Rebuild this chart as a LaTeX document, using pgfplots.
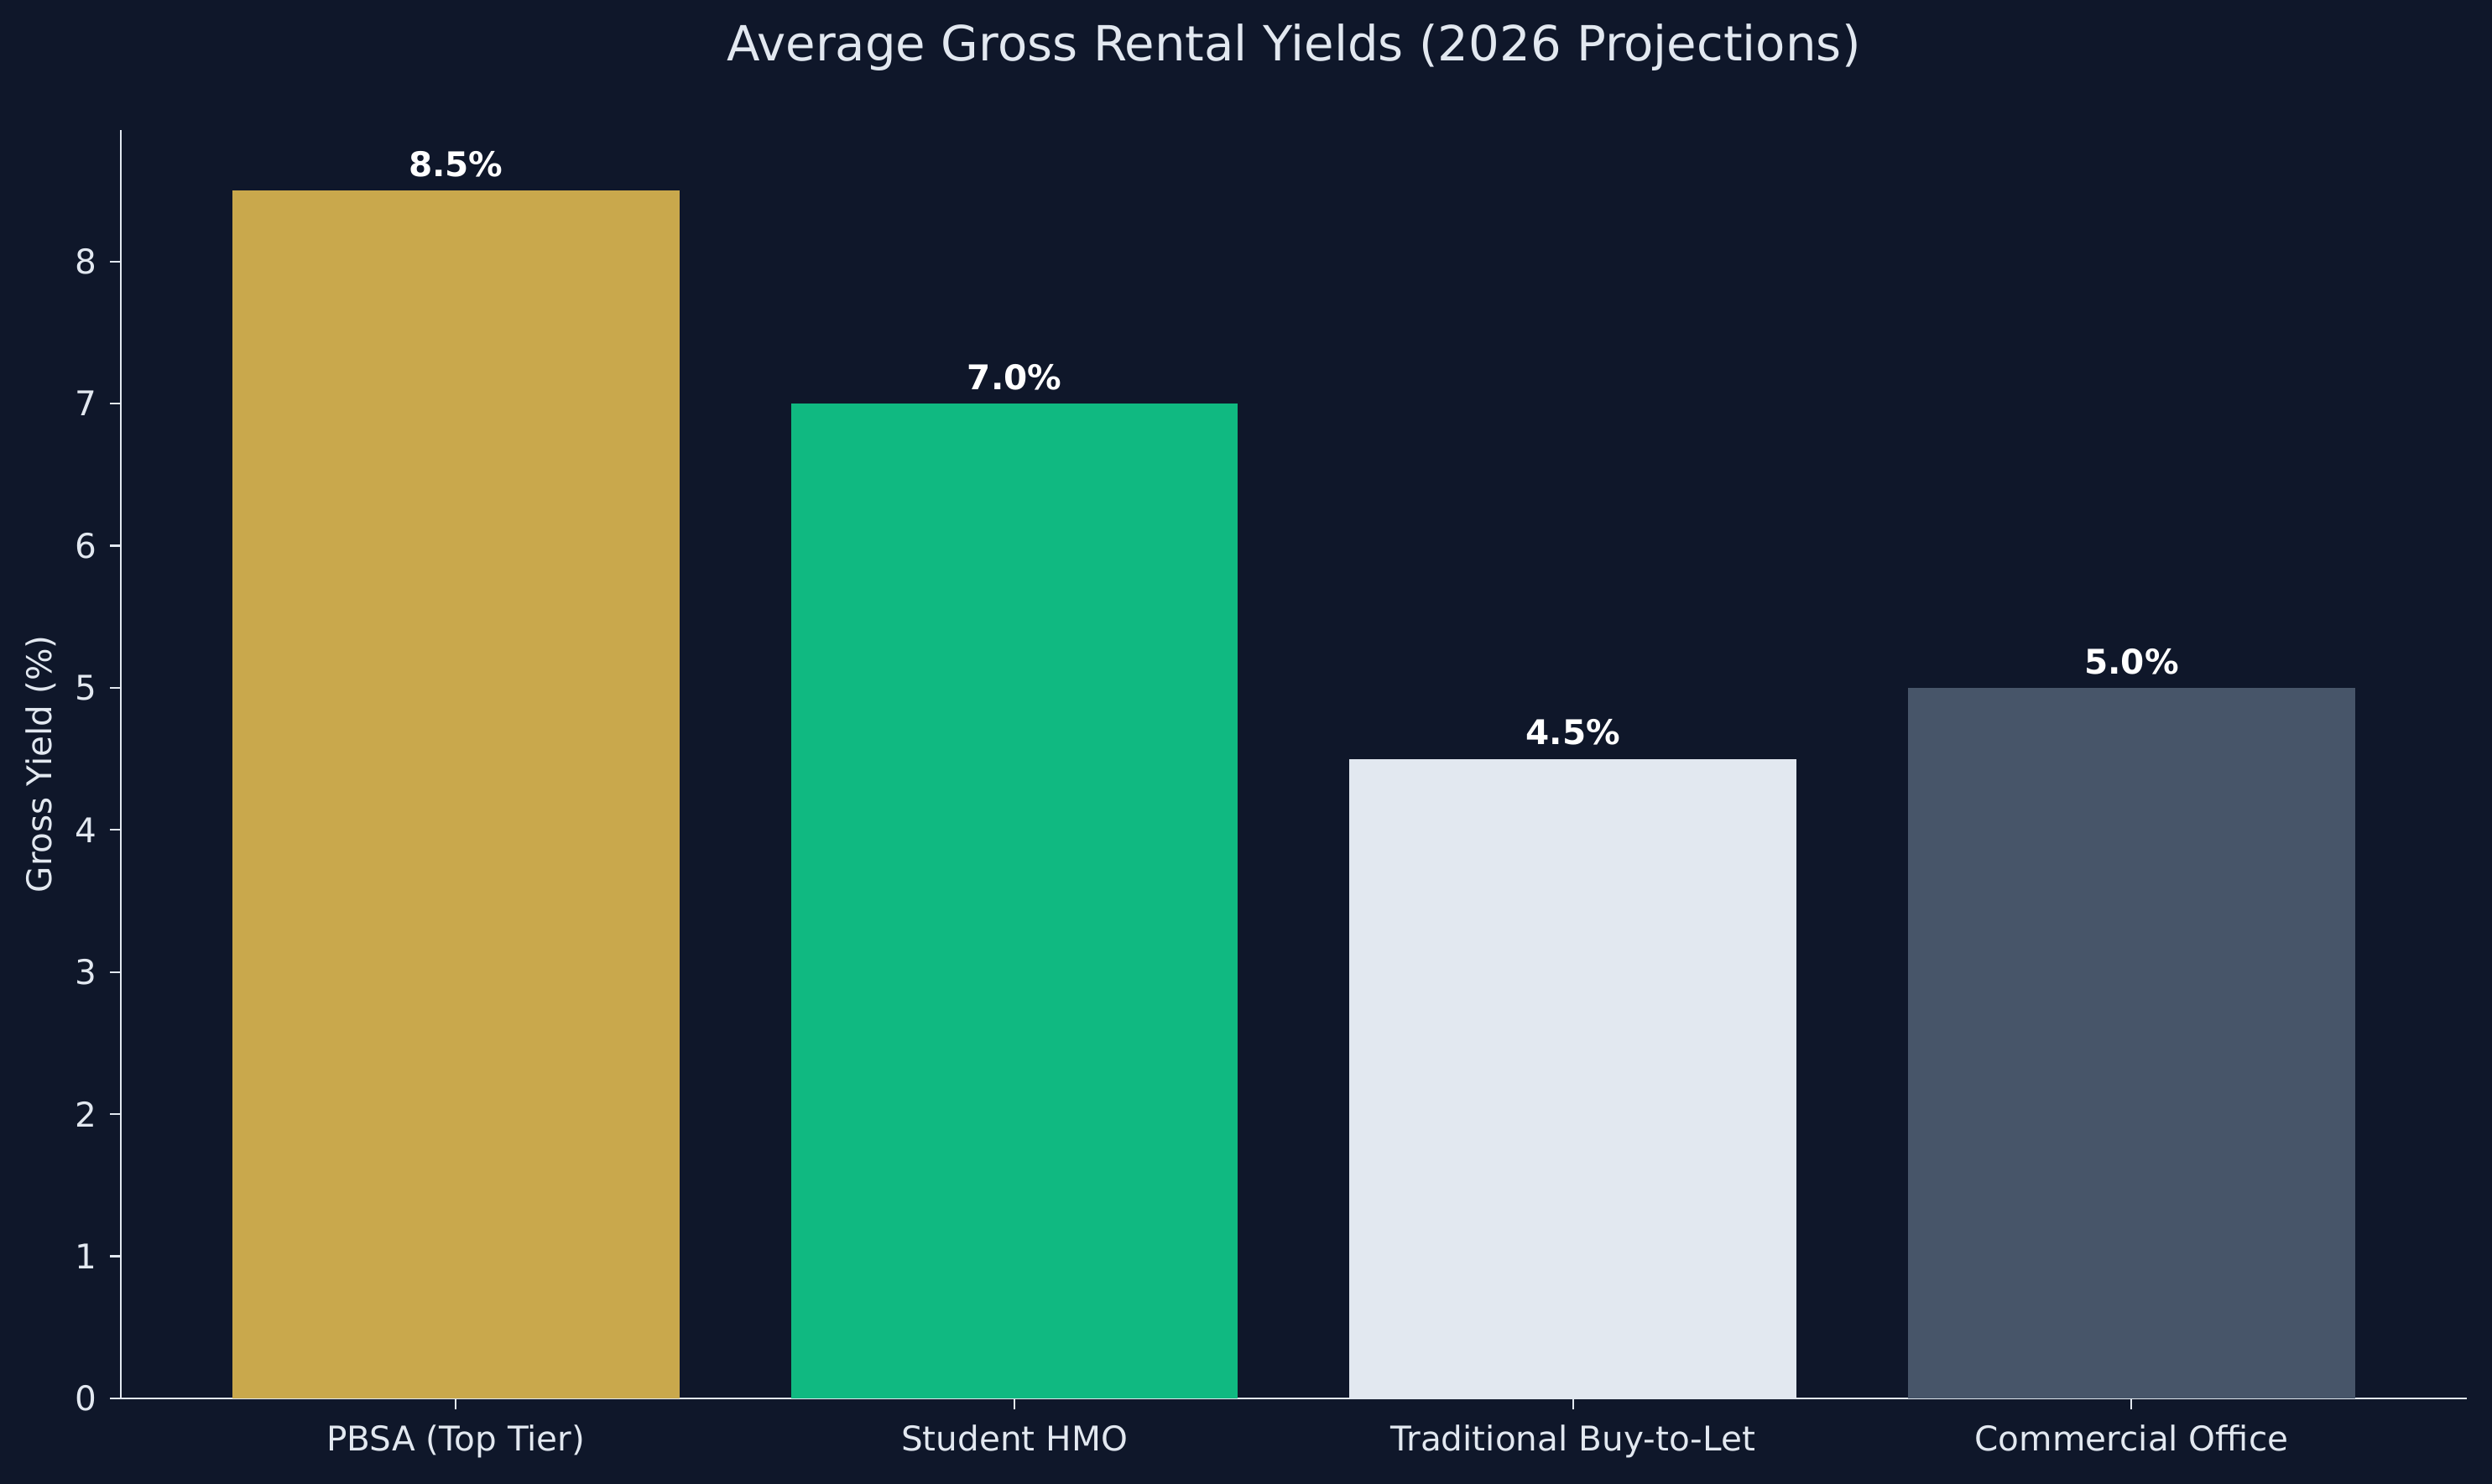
\documentclass[border=0pt]{standalone}
\usepackage{pgfplots}
\pgfplotsset{compat=1.18}
\usepackage{fontspec}
\setmainfont{DejaVu Sans}
\definecolor{bg}{HTML}{0F172A}
\definecolor{gold}{HTML}{C9A84C}
\definecolor{emer}{HTML}{10B981}
\definecolor{lightc}{HTML}{E2E8F0}
\definecolor{slatec}{HTML}{475569}
\definecolor{txt}{HTML}{E2E8F0}
\begin{document}
\begin{tikzpicture}
\fill[bg] (0,0) rectangle (1069.2pt,636.8pt);
\useasboundingbox (0,0) rectangle (1069.2pt,636.8pt);
\begin{axis}[
  at={(51.8pt,36.7pt)}, anchor=south west,
  scale only axis, width=1006.6pt, height=544.3pt,
  xmin=-0.6, xmax=3.6, ymin=0, ymax=8.925,
  axis x line*=bottom, axis y line*=left,
  axis line style={draw=lightc, line width=0.75pt, -},
  tick align=outside, major tick length=4.6pt,
  tick style={draw=lightc, line width=0.75pt},
  xtick={0,1,2,3}, ytick={0,1,2,3,4,5,6,7,8},
  xticklabels={PBSA (Top Tier), Student HMO, Traditional Buy-to-Let, Commercial Office},
  /pgf/number format/assume math mode=true,
  ticklabel style={font=\fontsize{14.6}{17}\selectfont, text=txt},
  xticklabel style={yshift=-3.4pt},
  yticklabel style={xshift=-2pt},
  ylabel={Gross Yield (\%)},
  ylabel style={at={(axis description cs:-0.034,0.5)}, anchor=center, font=\fontsize{14.6}{17}\selectfont, text=txt},
  title={Average Gross Rental Yields (2026 Projections)},
  title style={at={(axis description cs:0.5,1)}, anchor=center, yshift=29.4pt, font=\fontsize{20.8}{24}\selectfont, text=txt},
  ybar, bar width=0.8,
  nodes near coords={\pgfmathprintnumber[fixed, fixed zerofill, precision=1]{\pgfplotspointmeta}\%},
  every node near coord/.append style={anchor=center, yshift=11.3pt, font=\bfseries\fontsize{14.6}{17}\selectfont, text=white},
]
\addplot[fill=gold, draw=none, bar shift=0pt] coordinates {(0,8.5)};
\addplot[fill=emer, draw=none, bar shift=0pt] coordinates {(1,7.0)};
\addplot[fill=lightc, draw=none, bar shift=0pt] coordinates {(2,4.5)};
\addplot[fill=slatec, draw=none, bar shift=0pt] coordinates {(3,5.0)};
\end{axis}
\end{tikzpicture}
\end{document}
